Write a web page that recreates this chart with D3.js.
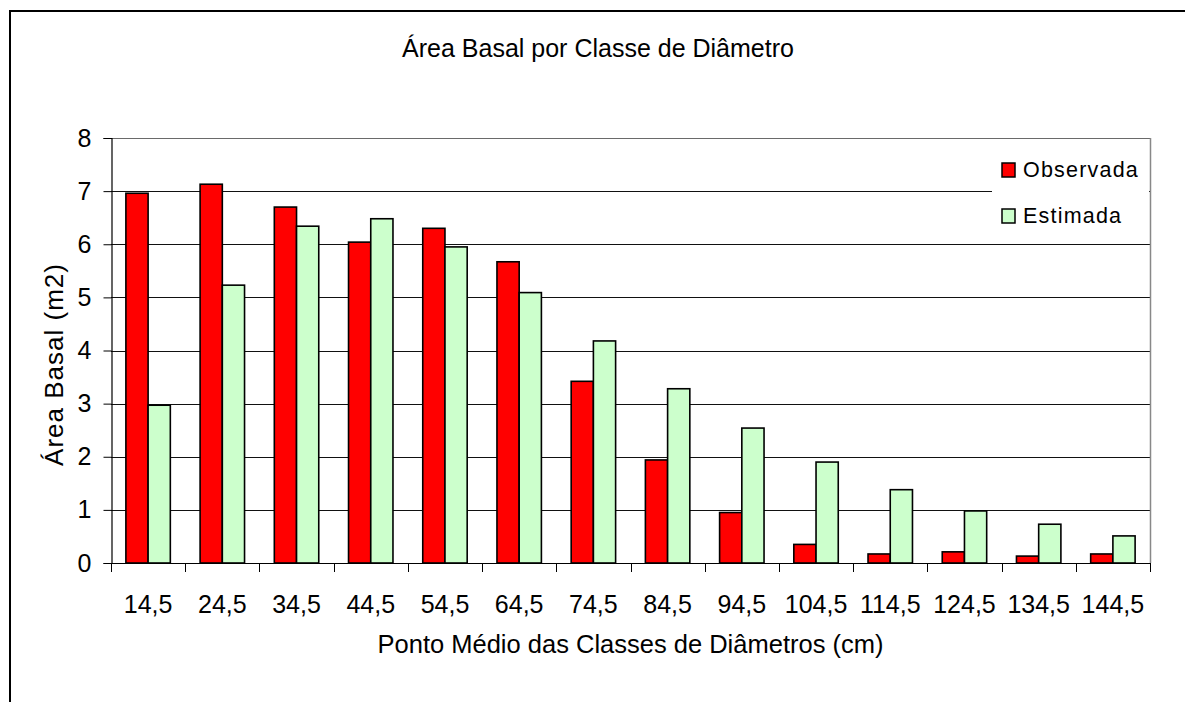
<!DOCTYPE html>
<html>
<head>
<meta charset="utf-8">
<script src="https://cdn.jsdelivr.net/npm/d3@7"></script>
<style>
  html, body { margin: 0; padding: 0; background: #fff; }
  svg { display: block; }
  text { font-family: "Liberation Sans", Arial, sans-serif; fill: #000; }
</style>
</head>
<body>
<svg id="chart" width="1185" height="702"></svg>
<script>
// Diameter class midpoints (cm)
const classes = ["14,5", "24,5", "34,5", "44,5", "54,5", "64,5", "74,5",
                 "84,5", "94,5", "104,5", "114,5", "124,5", "134,5", "144,5"];
// Basal area (m2) per class
const observada = [6.96, 7.13, 6.70, 6.04, 6.30, 5.67, 3.42, 1.94, 0.95, 0.35, 0.17, 0.21, 0.13, 0.17];
const estimada  = [2.97, 5.23, 6.34, 6.48, 5.95, 5.09, 4.18, 3.28, 2.54, 1.90, 1.38, 0.98, 0.73, 0.51];
const seriesNames = ["Observada", "Estimada"];
const seriesColors = ["#ff0000", "#ccffcc"];
const yTicks = [0, 1, 2, 3, 4, 5, 6, 7, 8];

const svg = d3.select("#chart");
const plot = { left: 111, right: 1150, top: 138, bottom: 563 };

// outer chart frame
svg.append("rect")
  .attr("x", 10).attr("y", 11).attr("width", 1176).attr("height", 720)
  .attr("fill", "#fff").attr("stroke", "#000").attr("stroke-width", 2);

const x0 = d3.scaleBand().domain(classes).range([plot.left, plot.right]).paddingInner(0).paddingOuter(0);
const x1 = d3.scaleBand().domain(seriesNames).range([0, x0.bandwidth()]).paddingInner(0).paddingOuter(0.67);
const y = d3.scaleLinear().domain([0, 8]).range([plot.bottom, plot.top]);

// horizontal gridlines
svg.append("g").selectAll("line").data(yTicks.filter(d => d > 0)).join("line")
  .attr("x1", plot.left).attr("x2", plot.right)
  .attr("y1", d => Math.round(y(d)) + 0.5).attr("y2", d => Math.round(y(d)) + 0.5)
  .attr("stroke", d => d === 8 ? "#6a6a6a" : "#111").attr("stroke-width", 1.2);

// right edge of plot area
svg.append("line")
  .attr("x1", plot.right + 0.5).attr("x2", plot.right + 0.5)
  .attr("y1", plot.top).attr("y2", plot.bottom)
  .attr("stroke", "#888").attr("stroke-width", 1.5);

// bars
const rows = classes.map((c, i) => ({ c, vals: [observada[i], estimada[i]] }));
const groups = svg.append("g").selectAll("g").data(rows).join("g")
  .attr("transform", d => `translate(${x0(d.c)},0)`);
groups.selectAll("rect").data(d => d.vals.map((v, k) => ({ v, k }))).join("rect")
  .attr("x", d => x1(seriesNames[d.k]))
  .attr("y", d => y(d.v))
  .attr("width", x1.bandwidth())
  .attr("height", d => y(0) - y(d.v))
  .attr("fill", d => seriesColors[d.k])
  .attr("stroke", "#000").attr("stroke-width", 1.6);

// y axis
const yAxis = svg.append("g").attr("transform", `translate(${plot.left + 0.5},0)`)
  .call(d3.axisLeft(y).tickValues(yTicks).tickSize(8).tickPadding(12).tickFormat(d3.format("d")));
yAxis.select(".domain").attr("stroke", "#000").attr("stroke-width", 1.2);
yAxis.selectAll(".tick line").attr("stroke", "#000");
yAxis.selectAll("text").style("font-size", "25px").style("font-family", "'Liberation Sans', Arial, sans-serif");

// x axis baseline
svg.append("line")
  .attr("x1", plot.left).attr("x2", plot.right)
  .attr("y1", plot.bottom + 0.5).attr("y2", plot.bottom + 0.5)
  .attr("stroke", "#000").attr("stroke-width", 1.2);

// category boundary ticks
const bounds = classes.map(c => x0(c)).concat([plot.right]);
svg.append("g").selectAll("line").data(bounds).join("line")
  .attr("x1", d => Math.round(d) + 0.5).attr("x2", d => Math.round(d) + 0.5)
  .attr("y1", plot.bottom).attr("y2", plot.bottom + 9)
  .attr("stroke", "#000").attr("stroke-width", 1);

// x tick labels
const xAxis = svg.append("g").attr("transform", `translate(0,${plot.bottom})`)
  .call(d3.axisBottom(x0).tickSize(0).tickPadding(32));
xAxis.select(".domain").remove();
xAxis.selectAll("text").style("font-size", "25px").style("font-family", "'Liberation Sans', Arial, sans-serif");

// title
svg.append("text").attr("x", 598).attr("y", 57).attr("text-anchor", "middle")
  .style("font-size", "25px").text("Área Basal por Classe de Diâmetro");

// axis titles
svg.append("text").attr("x", (plot.left + plot.right) / 2).attr("y", 653).attr("text-anchor", "middle")
  .style("font-size", "25.5px").text("Ponto Médio das Classes de Diâmetros (cm)");
svg.append("text").attr("transform", `translate(63,${(plot.top + plot.bottom) / 2 + 14}) rotate(-90)`)
  .attr("text-anchor", "middle").style("font-size", "26px").style("letter-spacing", "1px")
  .text("Área Basal (m2)");

// legend
const legend = svg.append("g");
legend.append("rect").attr("x", 992).attr("y", 150).attr("width", 157).attr("height", 86).attr("fill", "#fff");
const items = legend.selectAll("g").data(seriesNames).join("g")
  .attr("transform", (d, i) => `translate(1002,${163 + i * 46})`);
items.append("rect").attr("width", 13).attr("height", 14)
  .attr("fill", (d, i) => seriesColors[i]).attr("stroke", "#000").attr("stroke-width", 1.5);
items.append("text").attr("x", 21).attr("y", 14).style("font-size", "21.5px")
  .style("letter-spacing", "1.2px").text(d => d);
</script>
</body>
</html>
